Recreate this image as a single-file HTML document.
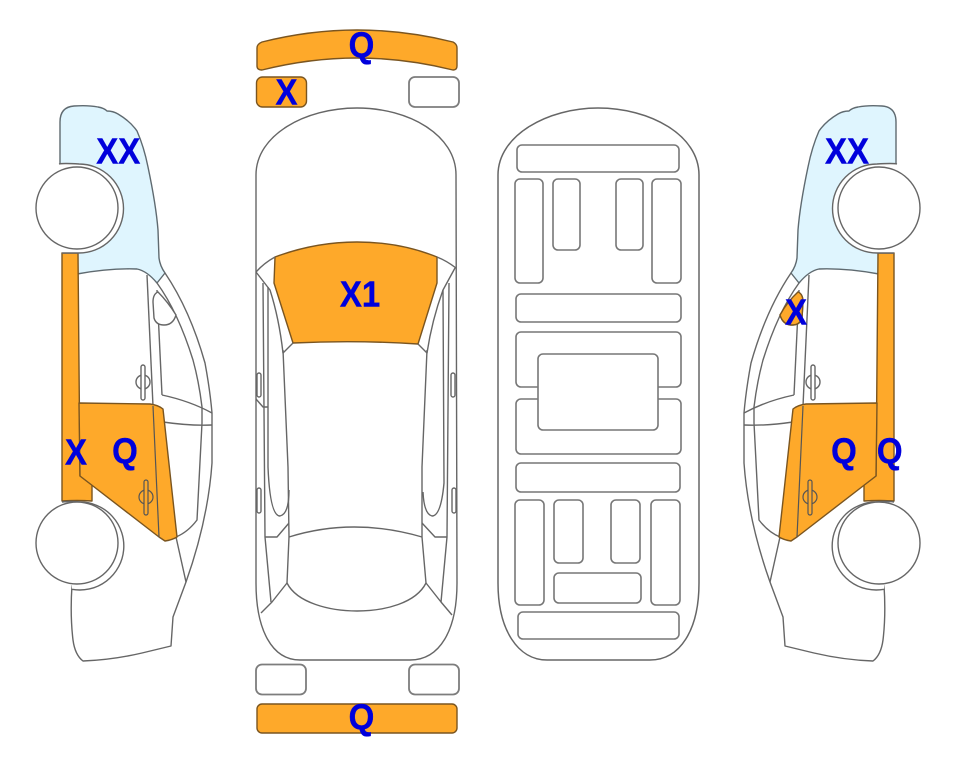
<!DOCTYPE html>
<html><head><meta charset="utf-8">
<style>
html,body{margin:0;padding:0;background:#fff;width:963px;height:768px;overflow:hidden}
svg{display:block}
text{font-family:"Liberation Sans",Arial,sans-serif;font-weight:bold;fill:#0000dc;stroke:#0000dc;stroke-width:.4;font-size:33px;text-anchor:middle}
.l{fill:none;stroke:#666;stroke-width:1.4;stroke-linejoin:round}
.a{fill:#fff;stroke:#666;stroke-width:1.4;stroke-linejoin:round}
.w{fill:#fff;stroke:#666;stroke-width:1.4}
.g{fill:#dff5fe;stroke:#5f6a70;stroke-width:1.4;stroke-linejoin:round}
.o{fill:#fea92a;stroke:#7a5520;stroke-width:1.4;stroke-linejoin:round}
.n{fill:#fea92a;stroke:none}
.r{fill:#fff;stroke:#777;stroke-width:1.6}
.p{fill:#fff;stroke:#7d7d7d;stroke-width:1.8}
.h{fill:none;stroke:#555;stroke-width:1.2}
</style></head><body>
<svg width="963" height="768" viewBox="0 0 963 768" xmlns="http://www.w3.org/2000/svg">
<defs>
<g id="side">
  <!-- glass -->
  <path class="g" d="M77,274 L77,240 L70,200 L60,164 L60,122 Q60,107 74,106 Q88,105 98,107 Q104,108 107,111 Q113,111 118,114 Q130,121 137,131 Q144,147 148,167 Q156,205 158,230 L159,258 Q160,266 165,273 L157,283 Q147,271 137,269 Q110,268 77,274 Z"/>
  <!-- body lines -->
  <path class="l" d="M165,273 Q190,310 205,363 Q210,390 212,413 L212,463 Q208,520 186,582 L173,617 L171,646 L142,653 Q112,660 83,661 Q75,655 73,640 Q70,615 72,585"/>
  <path class="l" d="M157,283 Q178,312 193,360 Q199,382 202,407 L202,423 L197,520 Q188,532 176,537"/>
  <path class="l" d="M176,537 L186,582"/>
  <path class="l" d="M147,275 L153,406"/>
  <path class="l" d="M157,290 L162,395"/>
  <path class="w" d="M158,292 Q153,294 153,302 L154,318 Q156,325 164,325 Q173,325 176,315 Q168,302 158,292 Z"/>
  <path class="l" d="M162,395 Q190,401 212,413"/>
  <path class="l" d="M163,422 Q190,426 212,425"/>
  <!-- upper handle -->
  <circle class="l" cx="143" cy="382" r="7"/>
  <rect class="w" x="141" y="365" width="4" height="35" rx="2"/>
</g>
</defs>

<!-- LEFT CAR -->
<use href="#side"/>
<path class="o" d="M62,253 L78,253 L80,476 L92,485 L92,501 Q77,500 62,501 Z"/>
<path class="o" d="M79,403 L150,404 Q158,405 163,409 L177,537 Q172,540 165,541 L159,537 L80,476 Z"/>
<path class="h" d="M153,406 L159,537"/>
<circle class="h" cx="146" cy="497" r="7"/>
<rect x="144" y="480" width="4" height="35" rx="2" fill="#fea92a" stroke="#555" stroke-width="1.2"/>
<path class="a" d="M59,164 Q63,163 79,164 A44.5,44.5 0 0 1 79,253 L62,253"/>
<circle class="w" cx="77" cy="208" r="41"/>
<path class="a" d="M62,502 Q70,501 80,502 A44,44 0 1 1 72,589.3"/>
<circle class="w" cx="77" cy="543" r="41"/>

<!-- RIGHT CAR -->
<use href="#side" transform="translate(956,0) scale(-1,1)"/>
<path class="o" d="M798,292 Q803,294 803,302 L802,318 Q800,325 792,325 Q783,325 780,315 Q787,302 798,292 Z"/>
<path class="o" d="M878,253 L894,253 L894,501 Q879,500 864,501 L864,485 L876,476 Z"/>
<path class="o" d="M877,403 L806,404 Q798,405 793,409 L779,537 Q784,540 791,541 L797,537 L876,476 Z"/>
<path class="h" d="M803,406 L797,537"/>
<circle class="h" cx="810" cy="497" r="7"/>
<rect x="808" y="480" width="4" height="35" rx="2" fill="#fea92a" stroke="#555" stroke-width="1.2"/>
<path class="a" d="M897,164 Q893,163 877,164 A44.5,44.5 0 0 0 877,253 L894,253"/>
<circle class="w" cx="879" cy="208" r="41"/>
<path class="a" d="M894,502 Q886,501 876,502 A44,44 0 1 0 884,589.3"/>
<circle class="w" cx="879" cy="543" r="41"/>

<!-- TOP VIEW CAR -->
<path class="l" d="M256,175 C256,135 305,108 357,108 C409,108 456,135 456,175 L457,583 C457,630 440,660 410,660 L300,660 C272,660 256,630 256,583 Z"/>
<path class="o" d="M275,257 Q315,242 357,242 Q400,242 437,257 L437,283 L418,344 Q357,340 293,343 L274,283 Z"/>
<path class="l" d="M256,272 Q264,263 275,257"/>
<path class="l" d="M437,257 Q447,261 456,268"/>
<path class="l" d="M256,272 L270,290 Q279,318 283,353 L293,343"/>
<path class="l" d="M455,268 L443,290 Q432,320 427,353 L418,344"/>
<path class="l" d="M283,350 L288,467 L289,537 L287,583"/>
<path class="l" d="M427,350 L422,467 L422,537 L426,583"/>
<path class="l" d="M289,537 Q353,517 422,537"/>
<path class="l" d="M287,583 C297,603 330,611 357,611 C385,611 416,603 426,583"/>
<path class="l" d="M287,583 L272,602 L261,613"/>
<path class="l" d="M426,583 L441,602 L452,615"/>
<path class="l" d="M263,283 L265,537 L271,602"/>
<path class="l" d="M268,287 L268,467 Q270,516 280,516 Q289,514 289,490"/>
<path class="l" d="M449,283 L447,537 L441,602"/>
<path class="l" d="M443,290 L444,483 Q441,516 432,516 Q424,514 423,492"/>
<path class="l" d="M256,399 L263,407 L268,407"/>
<path class="l" d="M265,537 L277,537 L289,523"/>
<path class="l" d="M447,537 L435,537 L422,523"/>
<rect class="w" x="257" y="373" width="4" height="24" rx="2"/>
<rect class="w" x="257" y="488" width="4" height="25" rx="2"/>
<rect class="w" x="451" y="373" width="4" height="24" rx="2"/>
<rect class="w" x="452" y="488" width="4" height="25" rx="2"/>

<!-- bumpers, lights -->
<path class="o" d="M262,42 Q310,30 357,30 Q405,30 453,42 Q457,44 457,48 L457,66 Q457,70 453,70 Q405,58 357,58 Q310,58 262,70 Q257,70 257,66 L257,48 Q257,44 262,42 Z"/>
<rect class="o" x="256.500" y="77" width="50" height="30" rx="6"/>
<rect class="p" x="409" y="77" width="50" height="30" rx="6"/>
<rect class="p" x="256" y="664.500" width="50" height="30" rx="6"/>
<rect class="p" x="409" y="664.500" width="50" height="30" rx="6"/>
<rect class="o" x="257" y="704" width="200" height="29" rx="5"/>

<!-- UNDERSIDE -->
<path class="l" style="stroke-width:1.5" d="M498,175 C498,135 548,108 598,108 C650,108 699,135 699,175 L699,583 C699,630 680,660 650,660 L547,660 C518,660 498,630 498,583 Z"/>
<rect class="r" x="517" y="145" width="162" height="27" rx="5"/>
<rect class="r" x="515" y="179" width="28" height="104" rx="5"/>
<rect class="r" x="553" y="179" width="27" height="71" rx="5"/>
<rect class="r" x="616" y="179" width="27" height="71" rx="5"/>
<rect class="r" x="652" y="179" width="29" height="104" rx="5"/>
<rect class="r" x="516" y="294" width="165" height="28" rx="5"/>
<rect class="r" x="516" y="332" width="165" height="55" rx="5"/>
<rect class="r" x="516" y="399" width="165" height="55" rx="5"/>
<rect class="r" x="538" y="354" width="120" height="76" rx="5"/>
<rect class="r" x="516" y="463" width="164" height="29" rx="5"/>
<rect class="r" x="515" y="500" width="29" height="105" rx="5"/>
<rect class="r" x="554" y="500" width="29" height="63" rx="5"/>
<rect class="r" x="611" y="500" width="29" height="63" rx="5"/>
<rect class="r" x="651" y="500" width="29" height="105" rx="5"/>
<rect class="r" x="554" y="573" width="87" height="30" rx="5"/>
<rect class="r" x="518" y="612" width="161" height="27" rx="5"/>

<!-- LABELS -->
<text transform="translate(118.300,163.500) scale(1,1.1)">XX</text>
<text transform="translate(847,163.500) scale(1,1.1)">XX</text>
<text transform="translate(361.500,57.500) scale(1,1.1)">Q</text>
<text transform="translate(286.500,104.500) scale(1,1.1)">X</text>
<text transform="translate(360,306.500) scale(1,1.1)">X1</text>
<text transform="translate(76,464.500) scale(1,1.1)">X</text>
<text transform="translate(125,463.500) scale(1,1.1)">Q</text>
<text transform="translate(844,463.500) scale(1,1.1)">Q</text>
<text transform="translate(889.700,463.500) scale(1,1.1)">Q</text>
<text transform="translate(796,324.500) scale(1,1.1)">X</text>
<text transform="translate(361.500,729.500) scale(1,1.1)">Q</text>
</svg>
</body></html>
